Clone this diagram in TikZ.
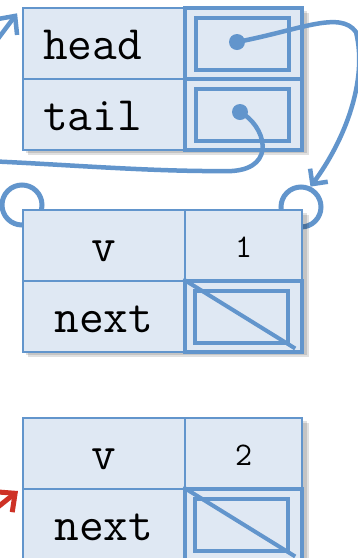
\documentclass[tikz,border=0pt]{standalone}
\usepackage{fontspec}
\usetikzlibrary{arrows.meta}

\definecolor{cellblue}{RGB}{98,149,204}
\definecolor{cellfill}{RGB}{223,232,243}
\definecolor{ptrred}{RGB}{206,50,38}

\tikzset{
  cell/.style={draw=cellblue, fill=cellfill, line width=2.2pt, inner sep=0pt, minimum height=71pt},
  namecell/.style={cell, minimum width=162pt, font=\fontsize{48}{54}\selectfont\ttfamily, text height=32pt, text depth=0pt},
  fieldcell/.style={namecell, text width=122pt, align=left, inner xsep=20pt},
  ptrcell/.style={cell, line width=3.5pt, minimum width=117pt},
  valcell/.style={cell, minimum width=117pt, font=\fontsize{33}{38}\selectfont\ttfamily, text height=23pt, text depth=0pt},
  slot/.style={draw=cellblue, line width=4pt, minimum width=93pt, minimum height=52pt, inner sep=0pt},
  dot/.style={circle, fill=cellblue, minimum size=16pt, inner sep=0pt},
  hook/.style={circle, draw=cellblue, line width=5pt, minimum size=40pt, inner sep=0pt},
  ptr/.style={draw=cellblue, line width=4.5pt, line cap=round},
  recshadow/.style={fill=black, opacity=0.12},
}

\begin{document}
\begin{tikzpicture}[x=1pt,y=-1pt]
    \clip (0,0) rectangle (358,558);
    \fill[white] (0,0) rectangle (358,558);
    % list header
    \begin{scope}[shift={(0,8)}]
      \fill[recshadow] (26,3) rectangle ++(281,142);
      \fill[recshadow] (28,5) rectangle ++(281,142);
      \node[fieldcell] (head) at (104,35.5) {head};
      \node[fieldcell] (tail) at (104,106.5) {tail};
      \node[ptrcell] (headptr) at (243.5,35.5) {};
      \node[ptrcell] (tailptr) at (243.5,106.5) {};
      \node[slot] (headslot) at (242,35.5) {};
      \node[slot] (tailslot) at (242,106.5) {};
      \node[dot] (headdot) at (237,34) {};
      \node[dot] (taildot) at (240,104) {};
    \end{scope}
    % first node
    \node[hook] (lhook) at (22,205) {};
    \node[hook] (rhook) at (301,207) {};
    \begin{scope}[shift={(0,210)}]
      \fill[recshadow] (26,3) rectangle ++(281,142);
      \fill[recshadow] (28,5) rectangle ++(281,142);
      \node[namecell] (v1) at (104,35.5) {v};
      \node[valcell] (val1) at (243.5,35.5) {1};
      \node[namecell] (next1) at (104,106.5) {next};
      \node[ptrcell] (nextptr1) at (243.5,106.5) {};
      \node[slot] (nextslot1) at (241.5,106.5) {};
      \draw[cellblue, line width=4pt, shorten >=10pt] (nextptr1.north west) -- (nextptr1.south east);
    \end{scope}
    % second node
    \begin{scope}[shift={(0,418)}]
      \fill[recshadow] (26,3) rectangle ++(281,142);
      \fill[recshadow] (28,5) rectangle ++(281,142);
      \node[namecell] (v2) at (104,35.5) {v};
      \node[valcell] (val2) at (243.5,35.5) {2};
      \node[namecell] (next2) at (104,106.5) {next};
      \node[ptrcell] (nextptr2) at (243.5,106.5) {};
      \node[slot] (nextslot2) at (241.5,106.5) {};
      \draw[cellblue, line width=4pt, shorten >=10pt] (nextptr2.north west) -- (nextptr2.south east);
    \end{scope}
    % pointers
    \coordinate (tailend) at (-15,161);
    \coordinate (inhead) at (-12,52);
    \coordinate (innext) at (-16,518);
    \draw[ptr, -{Straight Barb[length=11pt,width=22pt]}] (headdot.center)
      .. controls (300,30) and (340,10) .. (356,32)
      .. controls (368,80) and (345,140) .. (rhook.65);
    \draw[ptr] (taildot.center) .. controls (265,125) and (278,168) .. (232,171)
      .. controls (150,172) and (60,164) .. (tailend);
    \draw[ptr, shorten >=8pt, -{Straight Barb[length=14pt,width=26pt]}] (inhead) -- (head.north west);
    \draw[ptr, line width=5pt, draw=ptrred, shorten >=5pt, -{Straight Barb[length=14pt,width=26pt]}] (innext) -- (next2.north west);
\end{tikzpicture}
\end{document}
